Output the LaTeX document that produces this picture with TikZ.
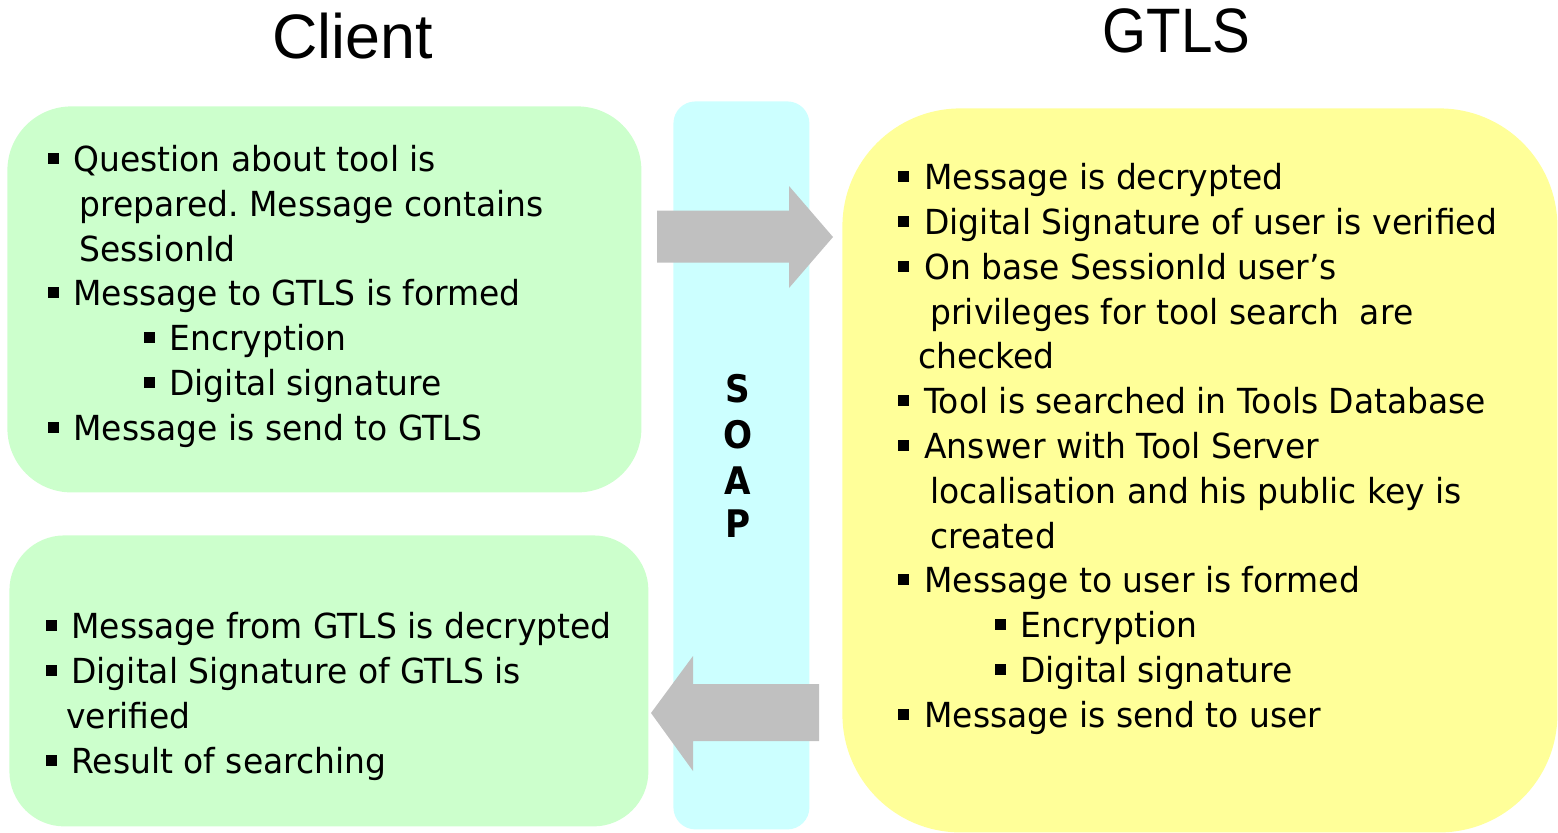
\documentclass[tikz,border=0pt]{standalone}
\usepackage{fontspec}
\setmainfont[FakeStretch=0.955]{DejaVu Sans}
\newfontfamily\bodyfam[FakeStretch=0.955]{DejaVu Sans}
\newfontfamily\soapfam[FakeStretch=0.9]{DejaVu Sans}
\newfontfamily\titlefam{Liberation Sans}
\frenchspacing

\definecolor{clientfill}{HTML}{CCFFCC}
\definecolor{soapfill}{HTML}{CCFFFF}
\definecolor{gtlsfill}{HTML}{FFFF99}
\definecolor{arrowfill}{HTML}{C0C0C0}

\tikzset{
  panel/.style={draw=none, inner sep=0pt, anchor=north west},
  txt/.style={anchor=base west, inner sep=0pt, font=\bodyfam\frenchspacing\fontsize{17.25pt}{22.5pt}\selectfont},
  bulletsq/.style={fill=black, inner sep=0pt, minimum size=5.5pt},
  titletxt/.style={anchor=base, inner sep=0pt, font=\titlefam\fontsize{31.4pt}{36pt}\selectfont},
  soaptxt/.style={anchor=base, inner sep=0pt, font=\soapfam\bfseries\fontsize{19pt}{22pt}\selectfont},
  blockarrow/.style={fill=arrowfill, draw=none}
}

% bulleted line: name, bullet x, text x, baseline y, text
\newcommand\bitem[5]{%
  \node[bulletsq] (#1b) at (#2+5.5,#4-12.5) {};
  \node[txt] (#1) at (#3,#4) {#5};}
% continuation line: name, x, baseline y, text
\newcommand\cont[4]{\node[txt] (#1) at (#2,#3) {#4};}

\begin{document}
\begin{tikzpicture}[x=0.5pt, y=-0.5pt]
\useasboundingbox (0,0) rectangle (1558,832);

% titles
\node[titletxt] (client) at (352.5,58) {Client};
\node[titletxt] (gtls) at (1176.5,52) {\scalebox{0.9}[1]{GTLS}};

% SOAP channel
\node[panel, fill=soapfill, rounded corners=11pt,
      minimum width=68pt, minimum height=364pt] (soap) at (673,101) {};
\node[soaptxt] (s1) at (738,402) {S};
\node[soaptxt] (s2) at (738,448) {O};
\node[soaptxt] (s3) at (738,494) {A};
\node[soaptxt] (s4) at (738,537) {P};

% client panels and GTLS panel
\node[panel, fill=clientfill, rounded corners=32pt,
      minimum width=317pt, minimum height=193pt] (request) at (7,106) {};
\node[panel, fill=clientfill, rounded corners=27.5pt,
      minimum width=319.5pt, minimum height=145.5pt] (result) at (9,535) {};
\node[panel, fill=gtlsfill, rounded corners=59pt,
      minimum width=357.5pt, minimum height=362pt] (server) at (842,108) {};

% client request
\bitem{r1}{48}{73}{171}{Question about tool is}
\cont{r1a}{79}{216}{prepared. Message contains}
\cont{r1b}{79}{261}{SessionId}
\bitem{r2}{48}{73}{305}{Message to GTLS is formed}
\bitem{r2a}{144}{169}{350}{Encryption}
\bitem{r2b}{144}{169}{395}{Digital signature}
\bitem{r3}{48}{73}{440}{Message is send to GTLS}

% client result
\bitem{a1}{46}{71}{638}{Message from GTLS is decrypted}
\bitem{a2}{46}{71}{683}{Digital Signature of GTLS is}
\cont{a2a}{66}{728}{verified}
\bitem{a3}{46}{71}{773}{Result of searching}

% GTLS processing
\bitem{g1}{898}{924}{189}{Message is decrypted}
\bitem{g2}{898}{924}{234}{Digital Signature of user is verified}
\bitem{g3}{898}{924}{279}{On base SessionId user’s}
\cont{g3a}{930}{324}{privileges for tool search\ \ are}
\cont{g3b}{918}{368}{checked}
\bitem{g4}{898}{924}{413}{Tool is searched in Tools Database}
\bitem{g5}{898}{924}{458}{Answer with Tool Server}
\cont{g5a}{930}{503}{localisation and his public key is}
\cont{g5b}{930}{548}{created}
\bitem{g6}{898}{924}{592}{Message to user is formed}
\bitem{g6a}{995}{1020}{637}{Encryption}
\bitem{g6b}{995}{1020}{682}{Digital signature}
\bitem{g7}{898}{924}{727}{Message is send to user}

% request arrow: client -> GTLS
\coordinate (reqtip) at (833,237);
\fill[blockarrow] (657,210.5) -- (789,210.5) -- (789,186) -- (reqtip)
  -- (789,288) -- (789,262.5) -- (657,262.5) -- cycle;

% answer arrow: GTLS -> client
\coordinate (anstip) at (651,713);
\fill[blockarrow] (819,684) -- (693,684) -- (693,656) -- (anstip)
  -- (693,771) -- (693,741) -- (819,741) -- cycle;
\end{tikzpicture}
\end{document}
